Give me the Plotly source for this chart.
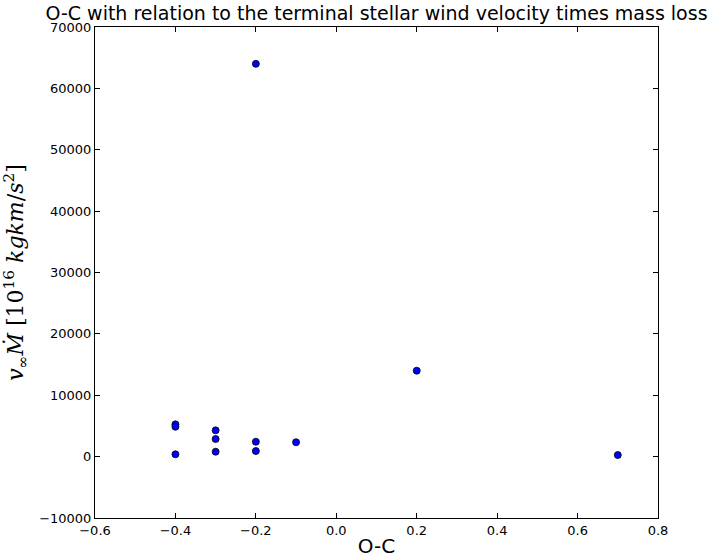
import plotly.graph_objects as go

oc = [-0.2, 0.2, -0.4, -0.4, -0.4, -0.3, -0.3, -0.3, -0.2, -0.2, -0.1, 0.7]
vmdot = [64000, 14000, 5260, 4870, 380, 4280, 2870, 800, 2430, 910, 2340, 260]

x_ticks = [-0.6, -0.4, -0.2, 0.0, 0.2, 0.4, 0.6, 0.8]
y_ticks = [-10000, 0, 10000, 20000, 30000, 40000, 50000, 60000, 70000]

fig = go.Figure()
fig.add_trace(go.Scatter(
    x=oc, y=vmdot, mode="markers",
    marker=dict(color="#0000ff", size=7, line=dict(color="#000000", width=0.8)),
    showlegend=False,
))

axis_common = dict(
    showline=True, linecolor="black", linewidth=1, mirror="ticks",
    ticks="inside", ticklen=5, tickcolor="black", tickwidth=1,
    showgrid=False, zeroline=False, automargin=False,
    tickfont=dict(family="DejaVu Sans", size=13, color="black"),
)

fig.update_layout(
    width=713, height=558,
    margin=dict(l=95, r=55, t=27, b=40),
    paper_bgcolor="white", plot_bgcolor="white",
    title=dict(text="O-C with relation to the terminal stellar wind velocity times mass loss",
               x=(95 + 658) / 2 / 713, xanchor="center", y=1 - 13 / 558, yanchor="middle",
               xref="container", yref="container",
               font=dict(family="DejaVu Sans", size=19, color="black")),
    xaxis=dict(range=[-0.6, 0.8], tickvals=x_ticks,
               ticktext=[("\u2212" if v < 0 else "") + f"{abs(v):.1f}" for v in x_ticks],
               title=dict(text="O-C", font=dict(family="DejaVu Sans", size=20, color="black"), standoff=4),
               **axis_common),
    yaxis=dict(range=[-10000, 70000], tickvals=y_ticks,
               ticktext=[("\u2212" if v < 0 else "") + str(abs(v)) for v in y_ticks],
               title=dict(text="<i>v</i><sub>∞</sub><i>Ṁ</i> [10<sup>16</sup> <i>kgkm</i>/<i>s</i><sup>2</sup>]",
                          font=dict(family="DejaVu Serif", size=22, color="black"), standoff=14),
               **axis_common),
)

fig.write_html("out.html")
